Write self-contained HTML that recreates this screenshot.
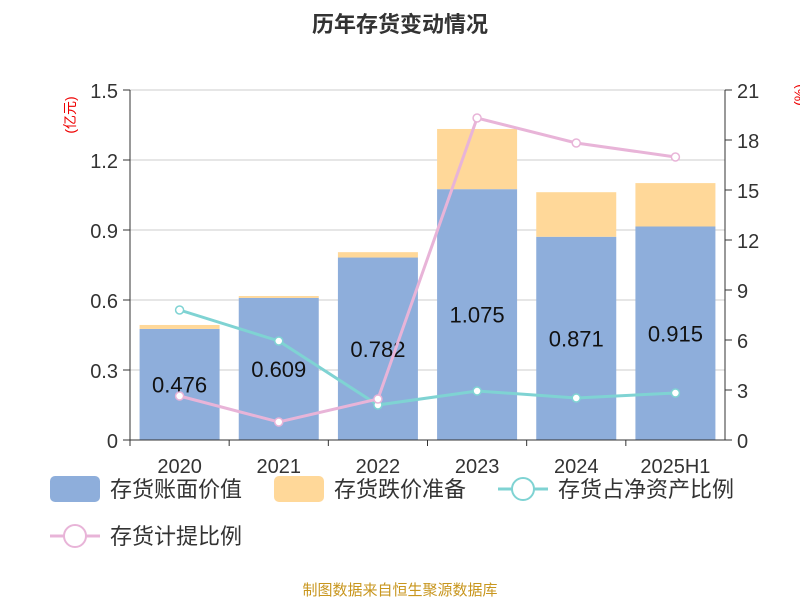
<!DOCTYPE html>
<html><head><meta charset="utf-8"><style>
body{margin:0;background:#fff;width:800px;height:600px;overflow:hidden;font-family:"Liberation Sans","Noto Sans CJK SC",sans-serif}
</style></head><body>
<svg id="c" width="800" height="600" xmlns="http://www.w3.org/2000/svg" style="font-family:'Liberation Sans','Noto Sans CJK SC',sans-serif">
<text x="400" y="32" text-anchor="middle" font-size="22" font-weight="bold" fill="#333">历年存货变动情况</text>
<text transform="translate(75,115) rotate(-90)" text-anchor="middle" font-size="14" fill="#e00">(亿元)</text>
<text transform="translate(804,95) rotate(-90)" text-anchor="middle" font-size="14" fill="#e00">(%)</text>
<g id="grid"></g><g id="bars"></g><g id="lines"></g><g id="axes"></g>
<text x="400" y="595" text-anchor="middle" font-size="15" fill="#c8961e">制图数据来自恒生聚源数据库</text>
</svg>
<script>
const categories=["2020","2021","2022","2023","2024","2025H1"];
const bookValue=[0.476,0.609,0.782,1.075,0.871,0.915];
const provision=[0.017,0.008,0.023,0.258,0.191,0.186];
const ratioNetAssets=[7.8,5.94,2.1,2.94,2.52,2.82];
const provisionRatio=[2.64,1.08,2.46,19.32,17.82,16.98];
const leftTicks=["0","0.3","0.6","0.9","1.2","1.5"];
const rightTicks=["0","3","6","9","12","15","18","21"];
const NS="http://www.w3.org/2000/svg";
const X0=130,X1=725,Y0=440,Y1=90;
const band=(X1-X0)/categories.length;
const xc=i=>X0+band*(i+0.5);
const yl=v=>Y0-(v/1.5)*(Y0-Y1);
const yr=v=>Y0-(v/21)*(Y0-Y1);
function mk(tag,attrs,parent,text){const e=document.createElementNS(NS,tag);for(const k in attrs)e.setAttribute(k,attrs[k]);if(text!==undefined)e.textContent=text;document.getElementById(parent).appendChild(e);return e;}
leftTicks.forEach(t=>{const y=yl(parseFloat(t));
 if(parseFloat(t)>0){const g=mk('line',{x1:X0,x2:X1,y1:y,y2:y,stroke:'#ccc','stroke-width':1},'grid');}
 const l=mk('line',{x1:X0-7,x2:X0,y1:y,y2:y,stroke:'#333'},'axes');
 const tx=mk('text',{x:X0-12,y:y+8,'text-anchor':'end','font-size':20,fill:'#333'},'axes',t);
 });
rightTicks.forEach(t=>{const y=yr(parseFloat(t));
 mk('line',{x1:X1,x2:X1+7,y1:y,y2:y,stroke:'#333'},'axes');
 const tx=mk('text',{x:X1+12,y:y+8,'font-size':20,fill:'#333'},'axes',t);
 });
mk('line',{x1:X0,x2:X0,y1:Y1,y2:Y0,stroke:'#333'},'axes');
mk('line',{x1:X1,x2:X1,y1:Y1,y2:Y0,stroke:'#333'},'axes');
mk('line',{x1:X0,x2:X1,y1:Y0,y2:Y0,stroke:'#333'},'axes');
categories.forEach((c,i)=>{
 const bw=80,x=xc(i)-bw/2;
 const b=mk('rect',{x:x,y:yl(bookValue[i]),width:bw,height:Y0-yl(bookValue[i]),fill:'#8eaedb'},'bars');
 
 const p=mk('rect',{x:x,y:yl(bookValue[i]+provision[i]),width:bw,height:yl(bookValue[i])-yl(bookValue[i]+provision[i]),fill:'#ffd899'},'bars');
 
 const v=mk('text',{x:xc(i),y:(yl(bookValue[i])+Y0)/2+8,'text-anchor':'middle','font-size':22,fill:'#111'},'bars',bookValue[i].toFixed(3));
 
 mk('line',{x1:X0+band*i,x2:X0+band*i,y1:Y0,y2:Y0+6,stroke:'#333'},'axes');
 const cl=mk('text',{x:xc(i),y:Y0+33,'text-anchor':'middle','font-size':20,fill:'#333'},'axes',c);
 
});
function series(vals,color,name){
 const pts=vals.map((v,i)=>xc(i)+','+yr(v)).join(' ');
 const pl=mk('polyline',{points:pts,fill:'none',stroke:color,'stroke-width':3},'lines');
 
 vals.forEach((v,i)=>{const c=mk('circle',{cx:xc(i),cy:yr(v),r:4,fill:'#fff',stroke:color,'stroke-width':1.5},'lines');
  });
}
series(ratioNetAssets,'#7fd3d3','ratio-net-assets');
series(provisionRatio,'#e8b4d8','provision-ratio');
// legend
function leg(x,y,kind,color,label){
 if(kind==='rect'){mk('rect',{x:x,y:y-13,width:50,height:26,rx:5,fill:color},'axes');}
 else{mk('line',{x1:x,x2:x+50,y1:y,y2:y,stroke:color,'stroke-width':3},'axes');mk('circle',{cx:x+25,cy:y,r:11,fill:'#fff',stroke:color,'stroke-width':2},'axes');}
 const t=mk('text',{x:x+60,y:y+8,'font-size':22,fill:'#333'},'axes',label);
 
}
leg(50,489,'rect','#8eaedb','存货账面价值');
leg(274,489,'rect','#ffd899','存货跌价准备');
leg(498,489,'line','#7fd3d3','存货占净资产比例');
leg(50,536,'line','#e8b4d8','存货计提比例');
</script>
</body></html>
